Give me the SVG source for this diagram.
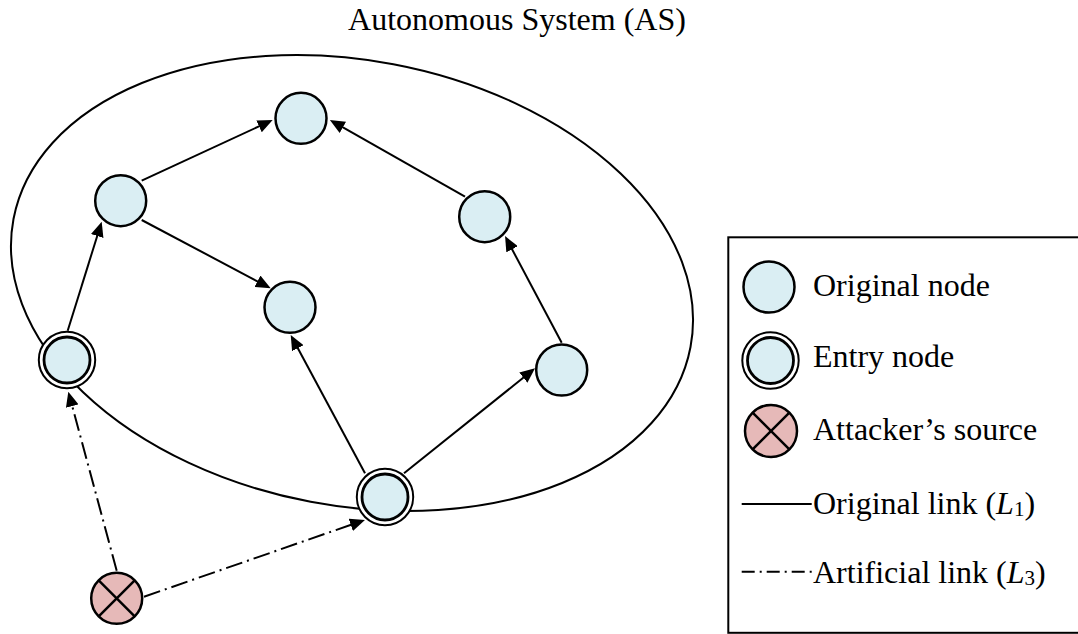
<svg xmlns="http://www.w3.org/2000/svg" width="1078" height="634" viewBox="0 0 1078 634">
<style>
text { font-family: "Liberation Serif", "Times New Roman", serif; font-size: 32px; fill: #000; }
.node { fill: #DAEEF3; stroke: #000; stroke-width: 2.5; }
.ring { fill: #fff; stroke: #000; stroke-width: 2; }
.inner { fill: #DAEEF3; stroke: #000; stroke-width: 2.8; }
.att { fill: #E6B9B8; stroke: #000; stroke-width: 2.5; }
.x { stroke: #000; stroke-width: 2.5; }
.link { fill: none; stroke: #000; stroke-width: 2; }
.art { stroke-dasharray: 17 5 2 5; }
.arr { marker-end: url(#ah); }
</style>
<defs>
<marker id="ah" markerUnits="userSpaceOnUse" markerWidth="15" markerHeight="13" viewBox="0 0 15 13" refX="7" refY="6.5" orient="auto">
<path d="M0,0 L15,6.5 L0,13 z" fill="#000"/>
</marker>
</defs>
<rect width="1078" height="634" fill="#fff"/>
<text x="517" y="30" text-anchor="middle">Autonomous System (AS)</text>
<g id="as-boundary">
<ellipse cx="352" cy="283" rx="344.5" ry="222.7" transform="rotate(10.7 352 283)" class="link"/>
</g>
<g id="connectors">
<line class="link arr" x1="141.7" y1="180.7" x2="265.4" y2="123.4"/>
<line class="link arr" x1="141.7" y1="220" x2="263.6" y2="284.6"/>
<line class="link arr" x1="67.7" y1="330.7" x2="99.3" y2="229.3"/>
<line class="link arr" x1="365" y1="473.3" x2="294.5" y2="342"/>
<line class="link arr" x1="465" y1="196.7" x2="336.8" y2="123.9"/>
<line class="link arr" x1="561.7" y1="342.7" x2="508.8" y2="243.1"/>
<line class="link arr" x1="404" y1="473.3" x2="528.8" y2="373.3"/>
<line class="link art arr" x1="116.7" y1="570.7" x2="70.4" y2="399.4"/>
<line class="link art arr" x1="144" y1="596.7" x2="357.4" y2="522.6"/>
</g>
<g id="node-top"><circle class="node" cx="301" cy="118.3" r="25.5"/></g>
<g id="node-left-top"><circle class="node" cx="120.7" cy="200.7" r="25.5"/></g>
<g id="node-center"><circle class="node" cx="290" cy="307.3" r="25.5"/></g>
<g id="node-right-top"><circle class="node" cx="484.7" cy="216.7" r="25.5"/></g>
<g id="node-right-mid"><circle class="node" cx="561.7" cy="370" r="25.5"/></g>
<g id="entry-left"><circle class="ring" cx="67" cy="360" r="28.2"/><circle class="inner" cx="67" cy="360" r="23"/></g>
<g id="entry-bottom"><circle class="ring" cx="385" cy="497" r="28.2"/><circle class="inner" cx="385" cy="497" r="23"/></g>
<g id="attacker">
<circle class="att" cx="116.7" cy="598.3" r="25.5"/>
<line class="x" x1="98.7" y1="580.3" x2="134.7" y2="616.3"/>
<line class="x" x1="134.7" y1="580.3" x2="98.7" y2="616.3"/>
</g>
<g id="legend">
<rect x="728.3" y="237.3" width="360" height="395.5" fill="none" stroke="#000" stroke-width="2"/>
<circle class="node" cx="769" cy="287" r="25.5"/>
<text x="813" y="296">Original node</text>
<circle class="ring" cx="770.5" cy="360.5" r="28.2"/>
<circle class="inner" cx="770.5" cy="360.5" r="23"/>
<text x="813" y="367">Entry node</text>
<circle class="att" cx="771" cy="431" r="26"/>
<line class="x" x1="752.6" y1="412.6" x2="789.4" y2="449.4"/>
<line class="x" x1="789.4" y1="412.6" x2="752.6" y2="449.4"/>
<text x="813" y="440">Attacker’s source</text>
<line class="link" x1="741.7" y1="504" x2="811.7" y2="504"/>
<text x="813" y="514">Original link (<tspan font-style="italic">L</tspan><tspan font-size="21" dy="2">1</tspan><tspan dy="-2">)</tspan></text>
<line class="link" x1="741.7" y1="571.7" x2="811.7" y2="571.7" stroke-dasharray="13 5 2 5"/>
<text x="813" y="583">Artificial link (<tspan font-style="italic">L</tspan><tspan font-size="21" dy="2">3</tspan><tspan dy="-2">)</tspan></text>
</g>
</svg>
